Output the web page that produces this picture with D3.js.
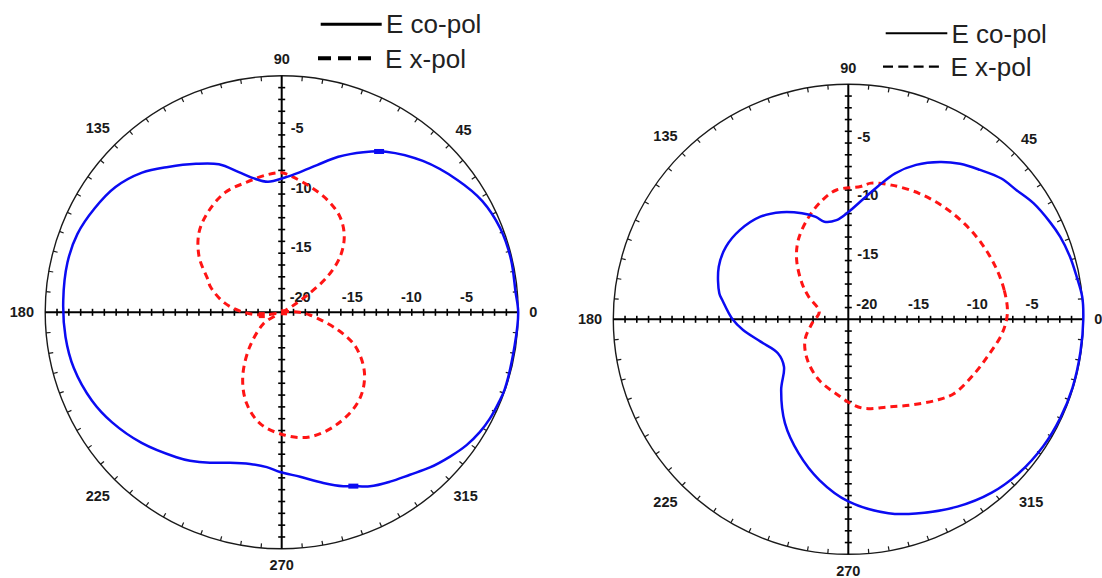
<!DOCTYPE html>
<html>
<head>
<meta charset="utf-8">
<script src="https://cdn.jsdelivr.net/npm/d3@7"></script>
<style>
html,body{margin:0;padding:0;background:#fff;}
svg{display:block;}
</style>
</head>
<body>
<svg id="chart" width="1102" height="578"></svg>
<script>
// ---------- data (angles in degrees, counter-clockwise from 0 = right; values in dB) ----------
const angleLabelDeg = [0, 45, 90, 135, 180, 225, 270, 315];
const angleLabels   = ["0", "45", "90", "135", "180", "225", "270", "315"];
const radialLabelDb = [-5, -10, -15, -20];
const radialLabels  = ["-5", "-10", "-15", "-20"];
const seriesNames   = ["E co-pol", "E x-pol"];

// left panel, co-polar
const leftCoDeg = [0, 5, 13, 21, 29, 37, 47, 57, 63, 70, 76.5, 83, 88.6, 96, 102, 107, 113, 120, 128, 135, 143, 151, 159, 167, 177, 186.5, 195, 205, 213, 223, 234, 238.3, 244.5, 251, 258.2, 264.5, 269.4, 276.4, 283.7, 289.5, 292.4, 296.9, 302.6, 308.3, 313.7, 319.4, 324.3, 328.9, 333, 337.2, 341, 352];
const leftCoDb  = [0, -0.15, -0.1, -0.2, -0.6, -1.4, -2.5, -3.8, -4.8, -6.0, -7.2, -8.1, -8.6, -8.9, -8.4, -7.6, -6.4, -5.5, -4.4, -3.3, -2.4, -1.9, -1.5, -1.4, -1.5, -1.6, -1.8, -2.3, -2.9, -3.8, -4.85, -5.25, -5.9, -6.55, -6.9, -6.85, -6.5, -6.0, -5.15, -4.4, -4.1, -3.5, -3.0, -2.5, -1.85, -1.25, -0.75, -0.42, -0.23, -0.13, -0.05, -0.1];
// left panel, cross-polar
const leftXDeg = [0, 10, 20, 30, 34, 38, 43.5, 50.4, 58.5, 67.8, 77.3, 85.6, 90, 96, 105, 115.4, 126.6, 136.2, 146.2, 156.3, 160.3, 170.7, 179.6, 187.8, 200, 211.9, 227.3, 239, 248.9, 259.2, 271.6, 282.8, 296.9, 311.4, 323.6, 335, 342.5, 354.5];
const leftXDb  = [-18.5, -19.6, -19.8, -19.0, -17.3, -15.1, -13.2, -11.7, -10.55, -9.75, -9.1, -8.5, -8.2, -8.3, -8.6, -8.8, -9.5, -10.3, -11.6, -13.2, -13.6, -15.1, -16.7, -18.3, -19.6, -18.2, -16.0, -13.6, -11.75, -10.4, -9.6, -9.2, -9.45, -10.1, -11.3, -13.1, -15.0, -17.6];
// left panel, thick marks on the traces
const leftCoMarkDeg = [58.8, 292.4];
const leftCoMarkDb  = [-4.1, -4.1];
const leftXMarkDeg  = [188, 0];
const leftXMarkDb   = [-18.3, -19.8];

// right panel, co-polar
const rightCoDeg = [0, 5.5, 10.6, 15.8, 21.3, 25.8, 32.1, 37.5, 42.6, 48.6, 54.3, 59.8, 66.3, 72.2, 77.4, 84, 89.8, 96.8, 103.8, 107.6, 113.6, 122, 130.6, 140.6, 149.3, 157.9, 168.6, 171.3, 180, 185.8, 194.3, 205.7, 216.4, 226.5, 238.6, 249.6, 259.8, 270, 281.7, 289.2, 300.2, 309.6, 318, 327, 335, 343, 352];
const rightCoDb  = [0, 0, -0.23, -0.4, -0.65, -0.95, -1.4, -1.95, -2.3, -3.05, -3.7, -4.5, -5.65, -6.95, -8.4, -9.9, -10.85, -11.5, -11.45, -10.85, -10.15, -9.25, -8.5, -8.05, -7.9, -8.1, -8.8, -9.15, -10.15, -11.0, -12.3, -13.35, -13.2, -11.7, -9.65, -7.85, -6.1, -4.5, -3.15, -2.5, -1.55, -0.85, -0.45, -0.2, -0.1, -0.05, -0.05];
// right panel, cross-polar
const rightXDeg = [2.2, 10.6, 19.7, 29.7, 39.6, 49.7, 60.5, 72.1, 80.5, 84.7, 95.2, 102.1, 111, 122.1, 131, 142.1, 150.2, 165.3, 186.3, 205.8, 224.7, 244.5, 263.9, 271.4, 280.1, 294.6, 306.9, 317.6, 325, 336.9, 346.7, 354.8];
const rightXDb  = [-6.45, -6.5, -6.7, -6.95, -7.2, -7.45, -7.7, -8.0, -8.25, -8.65, -8.95, -9.6, -10.65, -12.0, -13.3, -15.0, -16.1, -17.45, -16.9, -15.9, -15.1, -14.25, -13.4, -12.85, -12.3, -11.8, -10.9, -9.8, -9.0, -8.3, -7.6, -6.85];

// ---------- layout / style ----------
const panels = [
  {
    cx: 281.7, cy: 312.3, R: 236.5,
    co: [leftCoDeg, leftCoDb], x: [leftXDeg, leftXDb],
    coMarks: [leftCoMarkDeg, leftCoMarkDb], xMarks: [leftXMarkDeg, leftXMarkDb],
    legend: { x1: 320.7, x2: 381.7, tx: 386, y1: 24.3, b1: 33.3, y2: 58.3, x2b: 373, b2: 68.3, solidW: 3, dashW: 4, dash: "13,7" }
  },
  {
    cx: 848.3, cy: 319.3, R: 235,
    co: [rightCoDeg, rightCoDb], x: [rightXDeg, rightXDb],
    coMarks: null, xMarks: null,
    legend: { x1: 885.7, x2: 947.3, tx: 951.5, y1: 33.3, b1: 42.7, y2: 66.7, x2b: 941.7, b2: 76, solidW: 2, dashW: 2.2, dash: "10,5.3" }
  }
];

const BLUE = "#0b0bf2";
const RED = "#ff1414";
const INK = "#1a1a1a";
const FONT = "'Liberation Sans', Arial, Helvetica, sans-serif";

const svg = d3.select("#chart");
const toRad = d => (90 - d) * Math.PI / 180;   // d3 radial angle (clockwise from 12 o'clock)

function zip(a) { return a[0].map((d, i) => [d, a[1][i]]); }

panels.forEach(p => {
  const g = svg.append("g").attr("transform", `translate(${p.cx},${p.cy})`);
  const r = d3.scaleLinear().domain([-20, 0]).range([0, p.R]).clamp(true);

  // outer ring
  g.append("circle").attr("r", p.R).attr("fill", "none").attr("stroke", INK).attr("stroke-width", 1.4);

  // ring ticks every 5 degrees (inward)
  const ringTicks = d3.range(0, 360, 5).filter(a => a % 90 !== 0);
  g.selectAll(".rt").data(ringTicks).join("line")
    .attr("x1", a => p.R * Math.cos(a * Math.PI / 180))
    .attr("y1", a => -p.R * Math.sin(a * Math.PI / 180))
    .attr("x2", a => (p.R - 4.5) * Math.cos(a * Math.PI / 180))
    .attr("y2", a => -(p.R - 4.5) * Math.sin(a * Math.PI / 180))
    .attr("stroke", INK).attr("stroke-width", 1.2);

  // cross axes
  g.append("line").attr("x1", -p.R).attr("x2", p.R).attr("y1", 0).attr("y2", 0)
    .attr("stroke", "#000").attr("stroke-width", 2);
  g.append("line").attr("y1", -p.R).attr("y2", p.R).attr("x1", 0).attr("x2", 0)
    .attr("stroke", "#000").attr("stroke-width", 2);

  // radial ticks every 1 dB, on all four half-axes
  const dbTicks = d3.range(-19, 0, 1);
  [[1, 0], [-1, 0], [0, 1], [0, -1]].forEach(([ux, uy]) => {
    g.selectAll(null).data(dbTicks).join("line")
      .attr("x1", v => ux * r(v) - uy * 3.5)
      .attr("x2", v => ux * r(v) + uy * 3.5)
      .attr("y1", v => uy * r(v) - ux * 3.5)
      .attr("y2", v => uy * r(v) + ux * 3.5)
      .attr("stroke", "#000").attr("stroke-width", 1.6);
  });

  // radial labels on vertical axis (upper)
  g.selectAll(null).data(radialLabelDb.filter(v => v > -20)).join("text")
    .attr("x", 9).attr("y", v => -r(v) - 1.5)
    .attr("font-family", FONT).attr("font-size", 14.5).attr("font-weight", "bold")
    .attr("fill", INK)
    .text(v => radialLabels[radialLabelDb.indexOf(v)]);
  // radial labels on horizontal axis (right)
  g.selectAll(null).data(radialLabelDb).join("text")
    .attr("x", v => v === -20 ? 8 : r(v) + 1).attr("y", -10)
    .attr("font-family", FONT).attr("font-size", 14.5).attr("font-weight", "bold")
    .attr("fill", INK)
    .text(v => radialLabels[radialLabelDb.indexOf(v)]);

  // angle labels
  g.selectAll(null).data(angleLabelDeg).join("text")
    .attr("font-family", FONT).attr("font-size", 14.5).attr("font-weight", "bold")
    .attr("fill", INK).attr("text-anchor", "middle").attr("dominant-baseline", "central")
    .each(function (a, i) {
      const t = angleLabels[i];
      const hw = t.length * 4.1, hh = 5.5;
      const c = Math.cos(a * Math.PI / 180), s = Math.sin(a * Math.PI / 180);
      const rr = p.R + 11 + hw * Math.abs(c) + hh * Math.abs(s);
      d3.select(this).attr("x", rr * c).attr("y", -rr * s).text(t);
    });

  const line = d3.lineRadial()
    .angle(d => toRad(d[0]))
    .radius(d => r(d[1]))
    .curve(d3.curveCatmullRomClosed.alpha(0.5));

  // cross-pol (red dashed)
  g.append("path").datum(zip(p.x)).attr("d", line)
    .attr("fill", "none").attr("stroke", RED).attr("stroke-width", 3)
    .attr("stroke-dasharray", "7,5");
  if (p.xMarks) {
    g.selectAll(null).data(zip(p.xMarks)).join("rect")
      .attr("x", d => r(d[1]) * Math.cos(d[0] * Math.PI / 180) - 3)
      .attr("y", d => -r(d[1]) * Math.sin(d[0] * Math.PI / 180) - 3)
      .attr("width", 6).attr("height", 6).attr("fill", RED);
  }

  // co-pol (blue solid)
  g.append("path").datum(zip(p.co)).attr("d", line)
    .attr("fill", "none").attr("stroke", BLUE).attr("stroke-width", 2.5)
    .attr("stroke-linejoin", "round");
  if (p.coMarks) {
    g.selectAll(null).data(zip(p.coMarks)).join("rect")
      .attr("x", d => r(d[1]) * Math.cos(d[0] * Math.PI / 180) - 5)
      .attr("y", d => -r(d[1]) * Math.sin(d[0] * Math.PI / 180) - 2.5)
      .attr("width", 10).attr("height", 5).attr("fill", BLUE);
  }

  // legend
  const L = p.legend;
  const lg = svg.append("g");
  lg.append("line").attr("x1", L.x1).attr("x2", L.x2).attr("y1", L.y1).attr("y2", L.y1)
    .attr("stroke", "#000").attr("stroke-width", L.solidW);
  lg.append("text").attr("x", L.tx).attr("y", L.b1).attr("font-family", FONT)
    .attr("font-size", 26).attr("fill", "#222").text(seriesNames[0]);
  lg.append("line").attr("x1", L.x1 - 2.7).attr("x2", L.x2b).attr("y1", L.y2).attr("y2", L.y2)
    .attr("stroke", "#000").attr("stroke-width", L.dashW).attr("stroke-dasharray", L.dash);
  lg.append("text").attr("x", L.tx - 1).attr("y", L.b2).attr("font-family", FONT)
    .attr("font-size", 26).attr("fill", "#222").text(seriesNames[1]);
});
</script>
</body>
</html>
